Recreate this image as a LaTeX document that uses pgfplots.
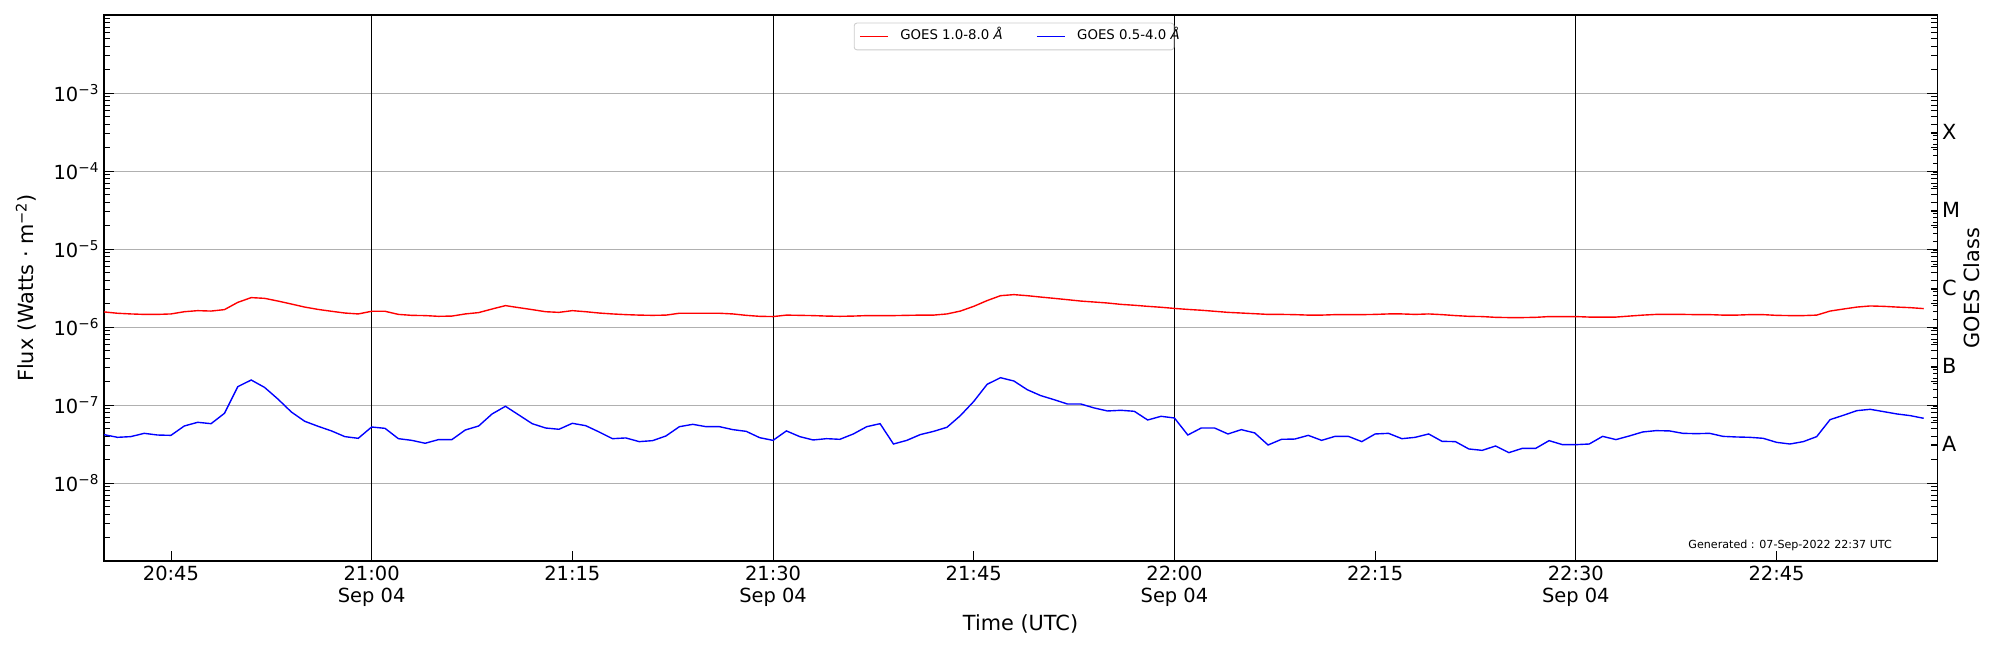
\documentclass[border=0pt]{standalone}
\usepackage{fontspec}
\setmainfont{DejaVu Sans}
\usepackage{pgfplots}
\usepackage{pgfplotstable}
\pgfplotsset{compat=1.18}
\definecolor{gridgray}{HTML}{B0B0B0}
\definecolor{legframe}{HTML}{CCCCCC}

\pgfplotstableread{
t long short
40 1.56e-6 4.17e-8
41 1.50e-6 3.85e-8
42 1.47e-6 3.93e-8
43 1.45e-6 4.33e-8
44 1.45e-6 4.12e-8
45 1.47e-6 4.08e-8
46 1.57e-6 5.38e-8
47 1.62e-6 6.00e-8
48 1.60e-6 5.76e-8
49 1.67e-6 7.82e-8
50 2.07e-6 1.72e-7
51 2.38e-6 2.09e-7
52 2.33e-6 1.68e-7
53 2.15e-6 1.19e-7
54 1.97e-6 8.13e-8
55 1.80e-6 6.18e-8
56 1.68e-6 5.33e-8
57 1.59e-6 4.65e-8
58 1.51e-6 3.93e-8
59 1.47e-6 3.74e-8
60 1.59e-6 5.22e-8
61 1.59e-6 5.02e-8
62 1.45e-6 3.70e-8
63 1.41e-6 3.52e-8
64 1.40e-6 3.23e-8
65 1.37e-6 3.60e-8
66 1.38e-6 3.60e-8
67 1.47e-6 4.78e-8
68 1.53e-6 5.38e-8
69 1.70e-6 7.67e-8
70 1.88e-6 9.62e-8
71 1.77e-6 7.45e-8
72 1.67e-6 5.76e-8
73 1.57e-6 5.07e-8
74 1.54e-6 4.88e-8
75 1.62e-6 5.82e-8
76 1.57e-6 5.43e-8
77 1.51e-6 4.51e-8
78 1.47e-6 3.70e-8
79 1.44e-6 3.78e-8
80 1.42e-6 3.39e-8
81 1.41e-6 3.49e-8
82 1.42e-6 4.01e-8
83 1.50e-6 5.27e-8
84 1.50e-6 5.65e-8
85 1.50e-6 5.27e-8
86 1.50e-6 5.27e-8
87 1.47e-6 4.83e-8
88 1.41e-6 4.59e-8
89 1.37e-6 3.81e-8
90 1.36e-6 3.52e-8
91 1.42e-6 4.65e-8
92 1.41e-6 3.93e-8
93 1.40e-6 3.56e-8
94 1.38e-6 3.70e-8
95 1.37e-6 3.63e-8
96 1.38e-6 4.25e-8
97 1.40e-6 5.27e-8
98 1.40e-6 5.76e-8
99 1.40e-6 3.16e-8
100 1.41e-6 3.52e-8
101 1.42e-6 4.17e-8
102 1.42e-6 4.59e-8
103 1.47e-6 5.18e-8
104 1.60e-6 7.30e-8
105 1.84e-6 1.11e-7
106 2.18e-6 1.84e-7
107 2.52e-6 2.24e-7
108 2.60e-6 2.03e-7
109 2.52e-6 1.57e-7
110 2.42e-6 1.32e-7
111 2.33e-6 1.17e-7
112 2.24e-6 1.03e-7
113 2.15e-6 1.03e-7
114 2.09e-6 9.16e-8
115 2.03e-6 8.38e-8
116 1.95e-6 8.55e-8
117 1.90e-6 8.30e-8
118 1.84e-6 6.42e-8
119 1.79e-6 7.16e-8
120 1.73e-6 6.81e-8
121 1.68e-6 4.12e-8
122 1.64e-6 5.07e-8
123 1.59e-6 5.07e-8
124 1.54e-6 4.25e-8
125 1.51e-6 4.83e-8
126 1.48e-6 4.38e-8
127 1.45e-6 3.07e-8
128 1.45e-6 3.63e-8
129 1.44e-6 3.66e-8
130 1.42e-6 4.08e-8
131 1.42e-6 3.52e-8
132 1.44e-6 3.96e-8
133 1.44e-6 3.96e-8
134 1.44e-6 3.39e-8
135 1.45e-6 4.25e-8
136 1.47e-6 4.33e-8
137 1.47e-6 3.70e-8
138 1.45e-6 3.85e-8
139 1.47e-6 4.25e-8
140 1.44e-6 3.42e-8
141 1.40e-6 3.39e-8
142 1.37e-6 2.73e-8
143 1.36e-6 2.62e-8
144 1.33e-6 2.98e-8
145 1.32e-6 2.45e-8
146 1.32e-6 2.78e-8
147 1.33e-6 2.78e-8
148 1.36e-6 3.49e-8
149 1.36e-6 3.10e-8
150 1.36e-6 3.10e-8
151 1.34e-6 3.16e-8
152 1.34e-6 3.96e-8
153 1.34e-6 3.60e-8
154 1.38e-6 4.01e-8
155 1.42e-6 4.51e-8
156 1.45e-6 4.69e-8
157 1.45e-6 4.65e-8
158 1.45e-6 4.33e-8
159 1.44e-6 4.29e-8
160 1.44e-6 4.33e-8
161 1.42e-6 3.96e-8
162 1.42e-6 3.89e-8
163 1.44e-6 3.85e-8
164 1.44e-6 3.74e-8
165 1.41e-6 3.32e-8
166 1.40e-6 3.16e-8
167 1.40e-6 3.39e-8
168 1.42e-6 3.93e-8
169 1.60e-6 6.49e-8
170 1.70e-6 7.38e-8
171 1.80e-6 8.46e-8
172 1.86e-6 8.80e-8
173 1.84e-6 8.22e-8
174 1.80e-6 7.67e-8
175 1.77e-6 7.30e-8
176 1.72e-6 6.75e-8
}\goes

\begin{document}
\begin{tikzpicture}
\begin{axis}[
  scale only axis, width=1319.8pt, height=393.1pt,
  at={(0,0)}, anchor=south west,
  xmin=40, xmax=177, ymode=log, ymin=1e-9, ymax=1e-2,
  axis line style={line width=0.8pt},
  tick style={black, line width=0.6pt},
  major tick length=7pt, minor tick length=4.5pt,
  tick align=inside,
  xtick={45,60,...,165},
  xticklabels={20:45,{21:00\\Sep 04},21:15,{21:30\\Sep 04},21:45,{22:00\\Sep 04},22:15,{22:30\\Sep 04},22:45},
  xtick pos=left,
  ytick={1e-8,1e-7,1e-6,1e-5,1e-4,1e-3},
  yticklabels={10\textsuperscript{−8},10\textsuperscript{−7},10\textsuperscript{−6},10\textsuperscript{−5},10\textsuperscript{−4},10\textsuperscript{−3}},
  minor ytick={2e-9,3e-9,4e-9,5e-9,6e-9,7e-9,8e-9,9e-9,
    2e-8,3e-8,4e-8,5e-8,6e-8,7e-8,8e-8,9e-8,
    2e-7,3e-7,4e-7,5e-7,6e-7,7e-7,8e-7,9e-7,
    2e-6,3e-6,4e-6,5e-6,6e-6,7e-6,8e-6,9e-6,
    2e-5,3e-5,4e-5,5e-5,6e-5,7e-5,8e-5,9e-5,
    2e-4,3e-4,4e-4,5e-4,6e-4,7e-4,8e-4,9e-4,
    2e-3,3e-3,4e-3,5e-3,6e-3,7e-3,8e-3,9e-3},
  ytick pos=both,
  ymajorgrids,
  major grid style={gridgray, line width=0.6pt},
  extra x ticks={60,90,120,150},
  extra x tick labels={},
  extra x tick style={grid=major, major grid style={black, line width=0.6pt}},
  xticklabel style={align=center, font=\fontsize{14}{16}\selectfont},
  yticklabel style={font=\fontsize{14}{16}\selectfont},
  xlabel={Time (UTC)},
  ylabel={Flux (Watts · m\textsuperscript{−2})},
  label style={font=\fontsize{15}{18}\selectfont},
  xlabel style={at={(rel axis cs:0.5,0)}, yshift=-45.4pt, anchor=center},
  ylabel style={at={(rel axis cs:0,0.5)}, yshift=56pt, anchor=center},
  legend columns=2,
  legend image code/.code={\draw[#1] (0pt,0pt) -- (20pt,0pt);},
  legend style={at={(0.409,0.986)}, anchor=north west, draw=legframe, rounded corners=2pt,
    line width=0.6pt, fill=white, font=\fontsize{9.6}{11.5}\selectfont,
    inner xsep=3.6pt, inner ysep=5pt,
    nodes={inner sep=0pt, text height=7.1pt, text depth=2.2pt},
    column sep=0pt,
    /tikz/every odd column/.append style={column sep=8.6pt},
    /tikz/every even column/.append style={column sep=0pt}},
]
\addplot[red, line width=1pt] table[x=t, y=long]{\goes};
\addlegendentry{\makebox[97.8pt][l]{GOES 1.0-8.0 \textit{Å}}}
\addplot[blue, line width=1pt] table[x=t, y=short]{\goes};
\addlegendentry{\makebox[66pt][l]{GOES 0.5-4.0 \textit{Å}}}
\node[anchor=base east, font=\fontsize{8}{10}\selectfont] at (rel axis cs:0.978,0.022) {Generated : 07-Sep-2022 22:37 UTC};
\end{axis}
\begin{axis}[
  scale only axis, width=1319.8pt, height=393.1pt,
  at={(0,0)}, anchor=south west,
  xmin=40, xmax=177, ymode=log, ymin=1e-9, ymax=1e-2,
  axis line style={line width=0.8pt},
  tick style={black, line width=0.6pt},
  tick align=inside,
  axis x line=none, axis y line*=right,
  ytick={3.1623e-8,3.1623e-7,3.1623e-6,3.1623e-5,3.1623e-4},
  yticklabels={A,B,C,M,X},
  major tick length=4.5pt,
  yticklabel style={font=\fontsize{15}{18}\selectfont},
  ylabel={GOES Class},
  ylabel style={font=\fontsize{15}{18}\selectfont, at={(rel axis cs:1,0.5)}, yshift=-25pt, anchor=center},
]
\end{axis}
\pgfresetboundingbox
\path (-74.9pt,-64.1pt) rectangle (1365.1pt,403.9pt);
\end{tikzpicture}
\end{document}
